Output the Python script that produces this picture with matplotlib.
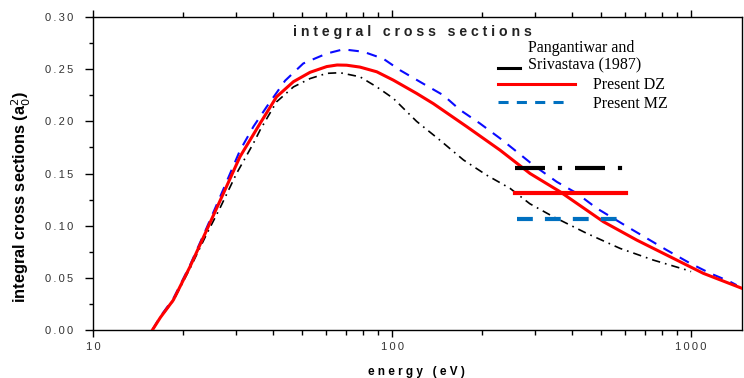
import matplotlib
matplotlib.use("Agg")
import matplotlib.pyplot as plt
from matplotlib.ticker import FixedLocator, FixedFormatter, LogLocator, MultipleLocator, NullFormatter

# values (energy in eV, cross section in a0^2)
dz_energy = [15.8, 16.8, 18.56, 21.1, 24.0, 27.3, 31.0, 36.2, 41.1, 46.8, 53.2, 60.5, 65.5, 70.5,
             78.1, 88.9, 101, 120.8, 137.4, 177.6, 229.7, 289.4, 364.7, 509, 658, 851, 1099, 1478]
dz_sigma = [0.0, 0.012, 0.0287, 0.0606, 0.0958, 0.131, 0.166, 0.198, 0.2235, 0.238, 0.247, 0.2525,
            0.254, 0.2538, 0.252, 0.2475, 0.2395, 0.2268, 0.217, 0.195, 0.1724, 0.150, 0.1325,
            0.1038, 0.0862, 0.0702, 0.0543, 0.040]

mz_energy = [15.8, 16.8, 18.56, 21.1, 24.0, 27.3, 31.0, 34.4, 38.1, 43.9, 50.5, 60.5, 68.7, 80.2,
             93.5, 106.4, 127.3, 148.5, 168.7, 196.7, 229.7, 261, 297, 355.6, 415, 484, 625, 829,
             993, 1159, 1350, 1420]
mz_sigma = [0.0, 0.013, 0.030, 0.062, 0.098, 0.135, 0.172, 0.195, 0.214, 0.239, 0.2555, 0.265,
            0.269, 0.2667, 0.260, 0.249, 0.236, 0.225, 0.211, 0.198, 0.1837, 0.171, 0.158, 0.142,
            0.131, 0.1166, 0.0974, 0.0766, 0.0639, 0.0543, 0.0463, 0.043]

ps_energy = [15.8, 16.8, 18.56, 21.1, 24.0, 26.6, 30.2, 34.4, 36.2, 41.1, 46.8, 53.2, 60.5, 67,
             78.1, 88.9, 101, 120.8, 144.5, 173.3, 207, 248, 289, 346, 448, 579, 748, 966, 1000]
ps_sigma = [0.0, 0.012, 0.028, 0.059, 0.092, 0.117, 0.150, 0.179, 0.1916, 0.2187, 0.233, 0.241,
            0.246, 0.2466, 0.2427, 0.233, 0.222, 0.200, 0.182, 0.163, 0.1485, 0.1358, 0.121,
            0.1086, 0.0926, 0.0782, 0.067, 0.0575, 0.056]

y_ticks = [0.00, 0.05, 0.10, 0.15, 0.20, 0.25, 0.30]
x_ticks = [10, 100, 1000]
x_tick_labels = ["10", "100", "1000"]

MZ_BLUE = "#0070c0"
TICK_COLOR = "#333333"
SANS = ["Liberation Sans", "DejaVu Sans"]


def tracked(text: str) -> str:
    # the reference prints its numbers with wide letter spacing
    return "\u2009".join(text)


def spaced(text: str) -> str:
    return " ".join(text)


fig = plt.figure(figsize=(7.44, 3.78), dpi=100)
ax = fig.add_axes([0.125, 0.127, 0.8723, 0.828])

ax.plot(ps_energy, ps_sigma, color="black", lw=1.2, linestyle=(0, (5, 3, 1, 3)), zorder=3)
ax.plot(mz_energy, mz_sigma, color="#0a0aff", lw=1.5, linestyle=(0, (5, 4)), zorder=3)
ax.plot(dz_energy, dz_sigma, color="#ff0000", lw=2.2, zorder=4)

ax.set_xscale("log")
ax.set_xlim(10, 1480)
ax.set_ylim(0, 0.30)

ax.xaxis.set_major_locator(FixedLocator(x_ticks))
ax.xaxis.set_major_formatter(FixedFormatter([tracked(s) for s in x_tick_labels]))
ax.xaxis.set_minor_locator(LogLocator(base=10, subs=range(2, 10)))
ax.xaxis.set_minor_formatter(NullFormatter())
ax.yaxis.set_major_locator(FixedLocator(y_ticks))
ax.yaxis.set_major_formatter(FixedFormatter([tracked(f"{v:.2f}") for v in y_ticks]))
ax.yaxis.set_minor_locator(MultipleLocator(0.025))

for side in ax.spines.values():
    side.set_linewidth(1.0)

ax.tick_params(axis="x", which="both", direction="out", top=True, bottom=True,
               labelsize=8, labelcolor=TICK_COLOR, width=1.0)
ax.tick_params(axis="x", which="major", length=5, pad=4)
ax.tick_params(axis="x", which="minor", length=3.5)
ax.tick_params(axis="y", which="both", direction="out", left=True, right=False,
               labelsize=8, labelcolor=TICK_COLOR, width=1.0)
ax.tick_params(axis="y", which="major", length=6, pad=8)
ax.tick_params(axis="y", which="minor", length=3)
for lab in ax.get_xticklabels() + ax.get_yticklabels():
    lab.set_family(SANS)

ax.text(0.308, 0.952, "i n t e g r a l   c r o s s   s e c t i o n s", transform=ax.transAxes,
        fontsize=10.2, fontweight="bold", family=SANS, color="#222222",
        ha="left", va="center")

fig.text(0.029, 0.48, r"integral cross sections (a$_0^2$)", rotation=90, ha="center", va="center",
         fontsize=11.8, fontweight="bold", family=SANS)
fig.text(0.56, 0.016, spaced("energy") + "   " + spaced("(eV)"), ha="center", va="center",
         fontsize=8.5, fontweight="bold", family=SANS)

# key at the top right
tr = ax.transAxes
ax.plot([0.624, 0.658], [0.837, 0.837], transform=tr, color="black", lw=2.2, clip_on=False)
ax.plot([0.624, 0.743], [0.786, 0.786], transform=tr, color="#ff0000", lw=2.2, clip_on=False)
ax.plot([0.624, 0.735], [0.728, 0.728], transform=tr, color=MZ_BLUE, lw=2.2,
        linestyle=(0, (3.3, 2.7)), clip_on=False)
serif = "Liberation Serif"
ax.text(0.670, 0.901, "Pangantiwar and", transform=tr, family=serif, fontsize=11.5, va="center")
ax.text(0.670, 0.847, "Srivastava (1987)", transform=tr, family=serif, fontsize=11.5, va="center")
ax.text(0.770, 0.783, "Present DZ", transform=tr, family=serif, fontsize=11.5, va="center")
ax.text(0.770, 0.722, "Present MZ", transform=tr, family=serif, fontsize=11.5, va="center")

# second set of sample lines inside the plot
ax.plot([0.650, 0.817], [0.518, 0.518], transform=tr, color="black", lw=3,
        linestyle=(0, (7.2, 3.1, 1, 3.1)), solid_capstyle="butt", zorder=5)
ax.plot([0.650, 0.821], [0.438, 0.438], transform=tr, color="#ff0000", lw=3, zorder=5)
ax.plot([0.653, 0.807], [0.355, 0.355], transform=tr, color=MZ_BLUE, lw=3,
        linestyle=(0, (3.8, 2.9)), zorder=5)

fig.savefig("out.png", dpi=100)
